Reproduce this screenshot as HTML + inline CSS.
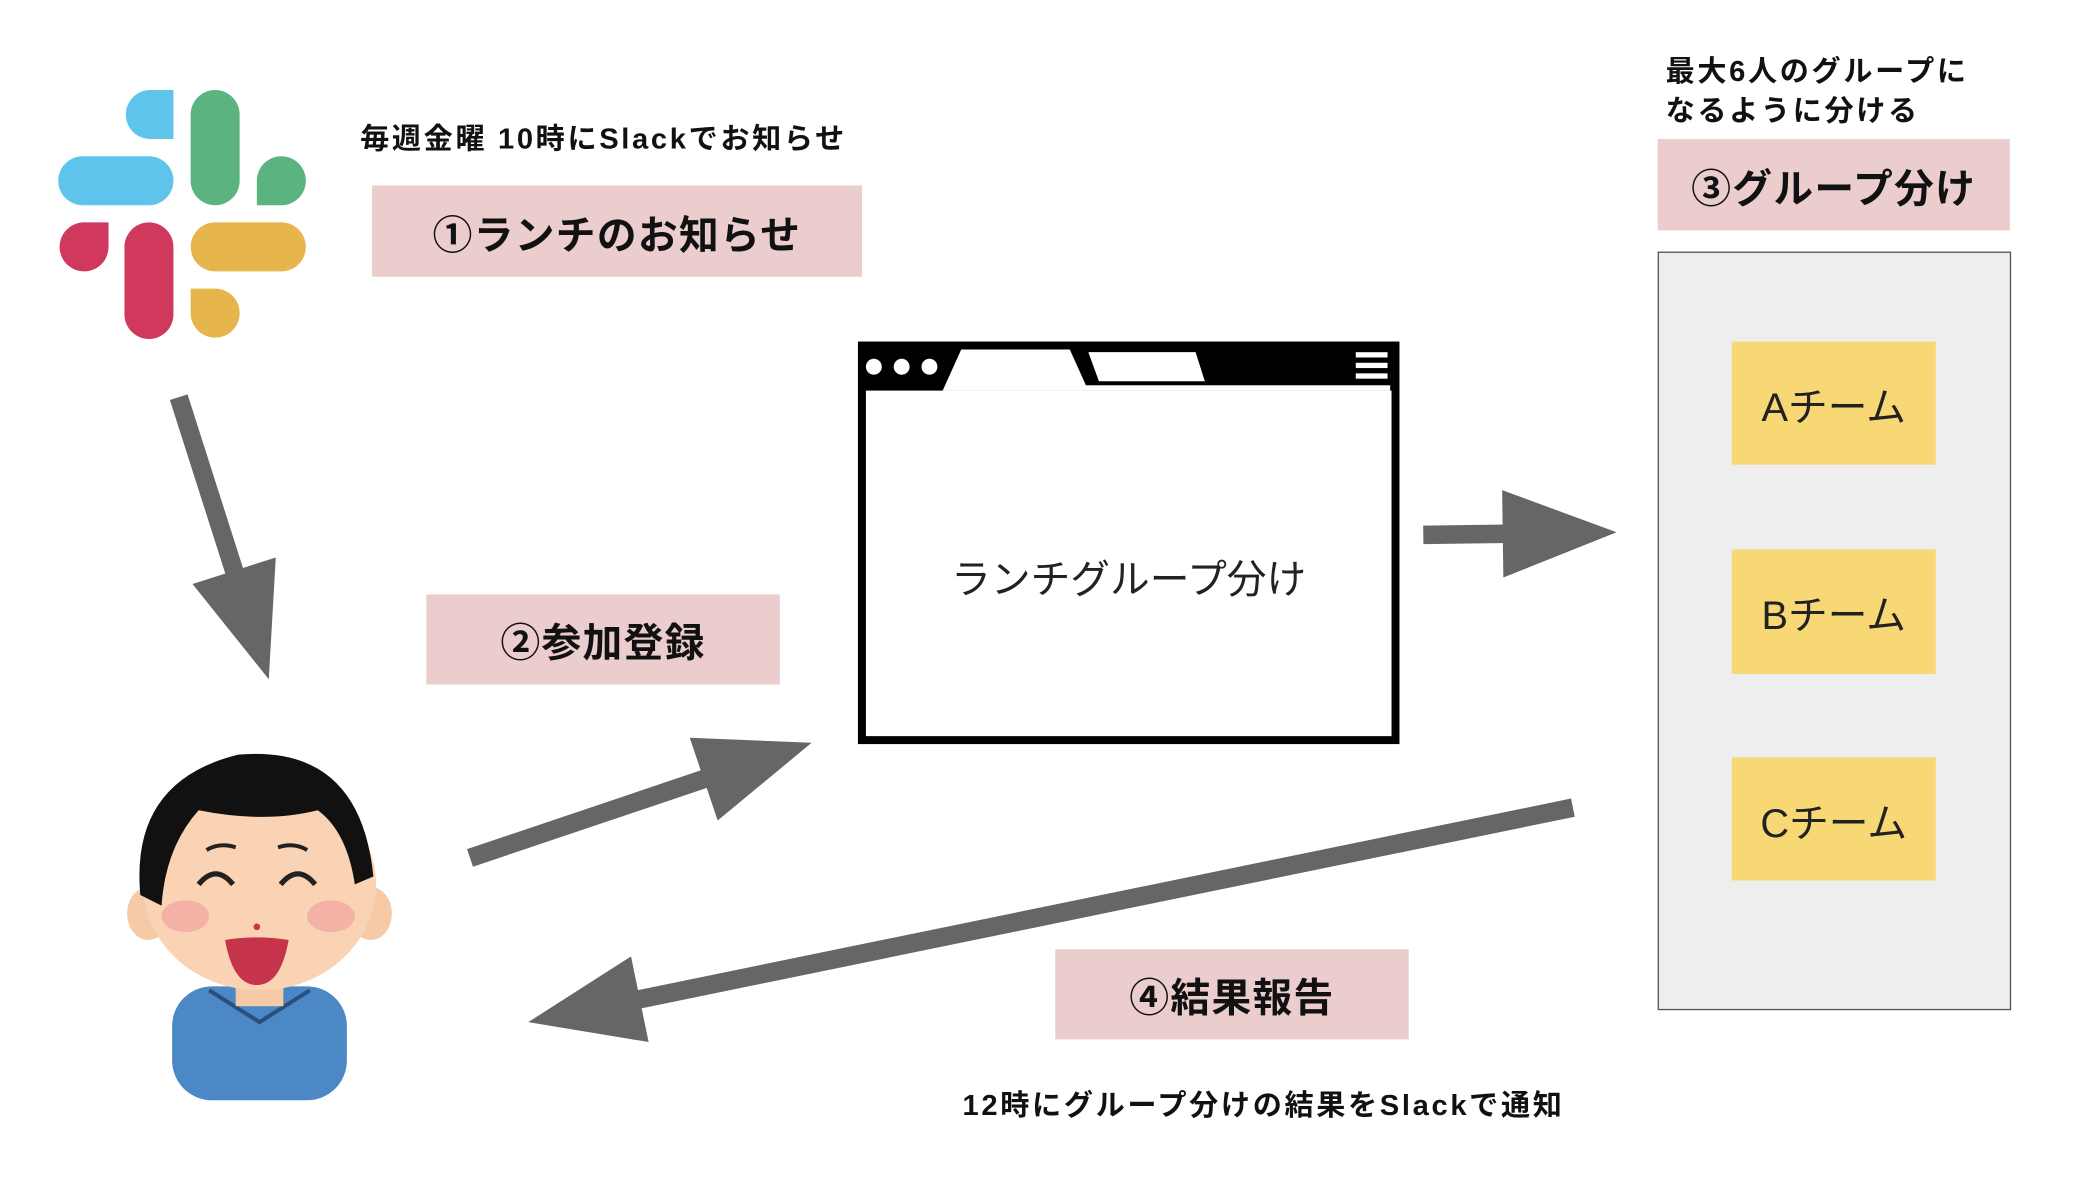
<!DOCTYPE html>
<html><head><meta charset="utf-8">
<style>
html,body{margin:0;padding:0;background:#fff;width:2076px;height:1184px;overflow:hidden}
#s{position:absolute;left:0;top:0;width:1568px;height:895px;transform:scale(1.324);transform-origin:0 0;font-family:"Liberation Sans","Noto Sans CJK JP",sans-serif}
.t{position:absolute;font-weight:bold;font-size:22px;color:#111;white-space:nowrap;line-height:30px;letter-spacing:2px}
.p{position:absolute;background:#ebcdcd;font-weight:bold;font-size:30px;color:#111;display:flex;align-items:center;justify-content:center;letter-spacing:1px}
.y{position:absolute;left:1308px;width:154px;background:#f8d775;font-size:30px;color:#222;display:flex;align-items:center;justify-content:center}
</style></head><body>
<div id="s">
<svg width="1568" height="895" style="position:absolute;left:0;top:0" id="g">
<rect x="44" y="118" width="87" height="37" rx="18.5" fill="#5ec4ec"/>
<path d="M131 68 V105 H113.5 A18.5 18.5 0 1 1 113.5 68 Z" fill="#5ec4ec"/>
<rect x="144" y="68" width="37" height="87" rx="18.5" fill="#5bb37f"/>
<path d="M194 155 H212.5 A18.5 18.5 0 1 0 194 136.5 Z" fill="#5bb37f"/>
<rect x="94" y="168" width="37" height="88" rx="18.5" fill="#d0385e"/>
<path d="M82 168 H62.5 A18.5 18.5 0 1 0 82 186.5 Z" fill="#d0385e"/>
<rect x="144" y="168" width="87" height="37" rx="18.5" fill="#e6b54c"/>
<path d="M144 218 V236.5 A18.5 18.5 0 1 0 162.5 218 Z" fill="#e6b54c"/>
<rect x="651" y="261" width="403" height="298" fill="#fff" stroke="#000" stroke-width="6"/>
<rect x="649" y="258" width="407" height="37" fill="#000"/>
<path d="M712 295 L726 264 H808 L822 295 Z" fill="#fff"/>
<path d="M822 266 H903 L910 288 H830 Z" fill="#fff"/>
<rect x="716" y="291" width="334" height="4" fill="#fff"/>
<circle cx="660" cy="277" r="6" fill="#fff"/><circle cx="681" cy="277" r="6" fill="#fff"/><circle cx="702" cy="277" r="6" fill="#fff"/>
<rect x="1024" y="266" width="24" height="4" fill="#fff"/><rect x="1024" y="274" width="24" height="4" fill="#fff"/><rect x="1024" y="282" width="24" height="4" fill="#fff"/>
<rect x="1252.5" y="190.5" width="266" height="572" fill="#eeeeee" stroke="#555" stroke-width="1"/>
<rect x="130" y="745" width="132" height="86" rx="30" fill="#4c87c6"/>
<path d="M158 748 L196 772 L234 748" fill="none" stroke="#2a4f7a" stroke-width="3"/>
<rect x="178" y="720" width="36" height="40" fill="#f6caa6"/>
<ellipse cx="112" cy="690" rx="16" ry="20" fill="#f6caa6"/>
<ellipse cx="280" cy="690" rx="16" ry="20" fill="#f6caa6"/>
<ellipse cx="196" cy="668" rx="88" ry="80" fill="#f9d3b3"/>
<path d="M106 676 Q98 590 180 570 Q272 562 282 662 L268 668 Q262 628 240 612 Q200 622 150 612 Q125 640 122 684 Z" fill="#111"/>
<ellipse cx="140" cy="692" rx="18" ry="12" fill="#f2a9a3" opacity=".8"/>
<ellipse cx="250" cy="692" rx="18" ry="12" fill="#f2a9a3" opacity=".8"/>
<path d="M150 668 Q163 652 176 668 M212 668 Q225 652 238 668" fill="none" stroke="#222" stroke-width="4"/>
<path d="M156 642 Q166 636 178 640 M210 640 Q222 636 232 642" fill="none" stroke="#222" stroke-width="3"/>
<path d="M170 710 Q194 706 218 710 Q212 744 194 744 Q176 744 170 710 Z" fill="#c5344a"/>
<circle cx="194" cy="700" r="2.5" fill="#c5344a"/>
</svg>
<div class="t" style="left:272px;top:90px">毎週金曜 10時にSlackでお知らせ</div>
<div class="p" style="left:281px;top:140px;width:370px;height:69px">①ランチのお知らせ</div>
<div class="p" style="left:322px;top:449px;width:267px;height:68px">②参加登録</div>
<div class="t" style="left:1258px;top:39px;line-height:30px">最大6人のグループに<br>なるように分ける</div>
<div class="p" style="left:1252px;top:105px;width:266px;height:69px">③グループ分け</div>
<div class="p" style="left:797px;top:717px;width:267px;height:68px">④結果報告</div>
<div class="t" style="left:727px;top:820px">12時にグループ分けの結果をSlackで通知</div>
<div style="position:absolute;left:651px;top:413px;width:403px;text-align:center;font-size:30px;color:#222">ランチグループ分け</div>
<div class="y" style="top:258px;height:93px">Aチーム</div>
<div class="y" style="top:415px;height:94px">Bチーム</div>
<div class="y" style="top:572px;height:93px">Cチーム</div>
</div>
<script>
var g=document.getElementById('g');
function arrow(x1,y1,x2,y2){
 var dx=x2-x1,dy=y2-y1,l=Math.hypot(dx,dy),ux=dx/l,uy=dy/l,px=-uy,py=ux,H=86,W=33;
 var bx=x2-ux*H,by=y2-uy*H;
 var ns='http://www.w3.org/2000/svg';
 var ln=document.createElementNS(ns,'line');
 ln.setAttribute('x1',x1);ln.setAttribute('y1',y1);ln.setAttribute('x2',bx+ux*4);ln.setAttribute('y2',by+uy*4);
 ln.setAttribute('stroke','#666');ln.setAttribute('stroke-width','14');g.appendChild(ln);
 var pg=document.createElementNS(ns,'polygon');
 pg.setAttribute('points',x2+','+y2+' '+(bx+px*W)+','+(by+py*W)+' '+(bx-px*W)+','+(by-py*W));
 pg.setAttribute('fill','#666');g.appendChild(pg);
}
arrow(135,300,203,513);
arrow(355,648,613,561);
arrow(1075,404,1221,402);
arrow(1188,610,399,772);
</script>
</body></html>
